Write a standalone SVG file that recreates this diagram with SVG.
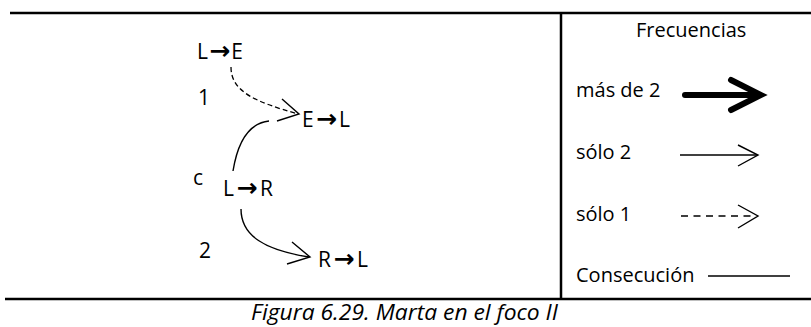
<svg xmlns="http://www.w3.org/2000/svg" width="811" height="327" viewBox="0 0 811 327">
<style>
.t{font-family:"Open Sans","Liberation Sans",sans-serif;font-size:20px;fill:#000}
.n{font-size:21px}
.ar{font-family:"DejaVu Sans",sans-serif;font-weight:bold;font-size:25px}
.cap{font-family:"Open Sans","Liberation Sans",sans-serif;font-size:22px;font-style:italic;fill:#000}
.frame{stroke:#000;stroke-width:2.5;fill:none}
.ln{stroke:#000;stroke-width:1.4;fill:none}
.dash{stroke:#000;stroke-width:1.3;fill:none;stroke-dasharray:5 3}
.thick{stroke:#000;stroke-width:6;fill:none;stroke-linecap:round}
</style>
<rect width="811" height="327" fill="#fff"/>
<g id="frame">
<path class="frame" d="M10,13 H811 M561,13 V299 M5,299 H811"/>
</g>
<g id="node-LE"><text class="t n" x="197" y="59" textLength="46" lengthAdjust="spacing">L<tspan class="ar">→</tspan>E</text></g>
<g id="node-EL"><text class="t n" x="302" y="127" textLength="48" lengthAdjust="spacing">E<tspan class="ar">→</tspan>L</text></g>
<g id="node-LR"><text class="t n" x="223" y="196" textLength="50" lengthAdjust="spacing">L<tspan class="ar">→</tspan>R</text></g>
<g id="node-RL"><text class="t n" x="318" y="267" textLength="50" lengthAdjust="spacing">R<tspan class="ar">→</tspan>L</text></g>
<g id="connectors">
<path class="dash" d="M231,67 C231,92 256,102 298,114"/>
<path class="ln" d="M282,99 L299,114 L277,121"/>
<path class="ln" d="M233,171 C238,140 250,123 269,121"/>
<path class="ln" d="M241,209 C241,236 265,250 309,257"/>
<path class="ln" d="M292,242 L310,257 L287,264"/>
<text class="t n" x="198" y="105">1</text>
<text class="t n" x="193" y="185">c</text>
<text class="t n" x="199" y="258">2</text>
</g>
<g id="legend">
<text class="t" x="636" y="37">Frecuencias</text>
<text class="t" x="576" y="97">más de 2</text>
<path class="thick" d="M685,95 H758"/>
<path class="thick" d="M731,80 L761,95 L731,110" stroke-linejoin="miter"/>
<text class="t" x="576" y="159">sólo 2</text>
<path class="ln" d="M680,155 H757"/>
<path class="ln" d="M738,145 L758,155 L738,166"/>
<text class="t" x="576" y="221">sólo 1</text>
<path class="ln" d="M681,216 H756" stroke-dasharray="7 5.5"/>
<path class="ln" d="M738,205 L758,216 L738,228"/>
<text class="t" x="576" y="282">Consecución</text>
<path class="ln" d="M708,276 H790"/>
</g>
<g id="caption">
<text class="cap" x="251" y="320" textLength="307" lengthAdjust="spacingAndGlyphs">Figura 6.29. Marta en el foco II</text>
</g>
</svg>
